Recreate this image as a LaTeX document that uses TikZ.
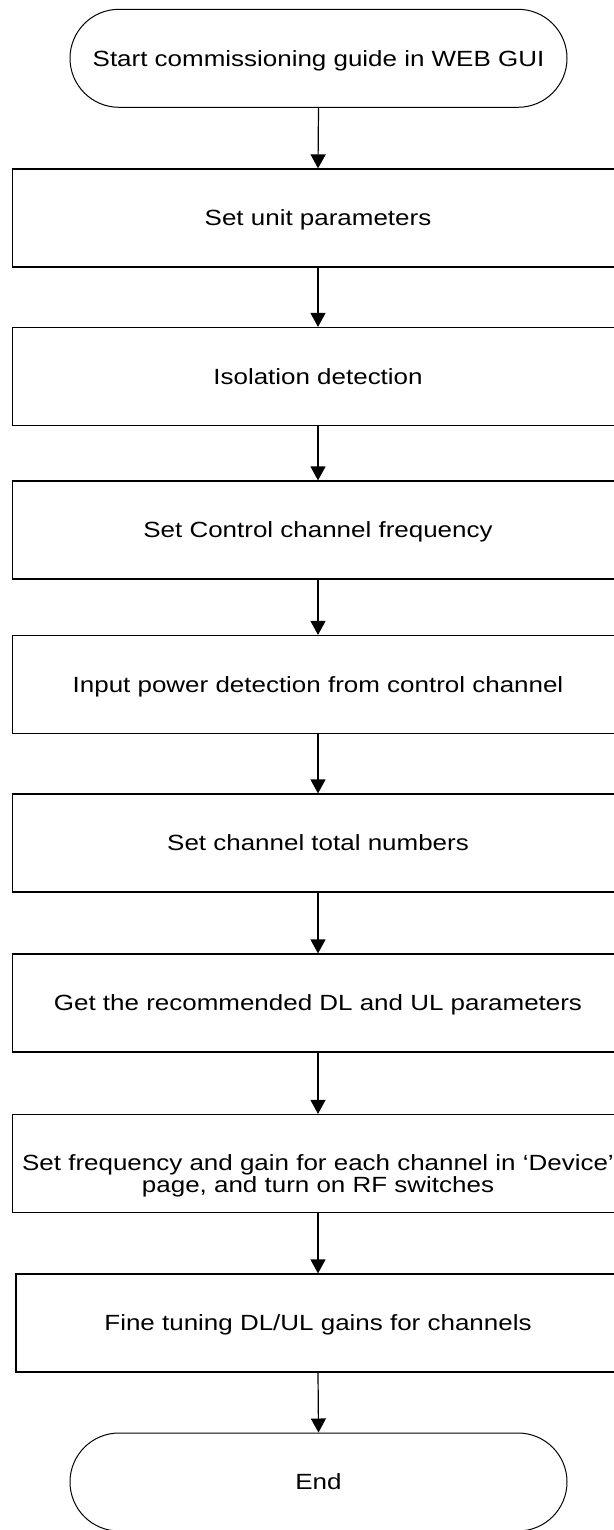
\documentclass[tikz,border=0pt]{standalone}
\usepackage{fontspec}
\setmainfont{Liberation Sans}
\usetikzlibrary{arrows.meta,shapes.misc}
\newcommand{\widetxt}[1]{\scalebox{1.18}[1]{#1}}
\begin{document}
\begin{tikzpicture}[x=1pt,y=-1pt,
  txt/.style={font=\fontsize{22}{23}\selectfont,text height=15.7pt,text depth=0pt},
  stepbox/.style={txt,draw=black,line width=1.2pt,minimum width=611pt,minimum height=98pt,inner sep=0pt,align=center},
  term/.style={txt,draw=black,line width=1pt,rounded rectangle,minimum width=497pt,minimum height=98pt,inner sep=0pt},
  plain/.style={font=\fontsize{22}{23}\selectfont,inner sep=0pt,anchor=base},
  flow/.style={draw=black,line width=1.2pt,-{Triangle[width=15pt,length=14pt]}}]
\useasboundingbox (0,0) rectangle (613,1530);
\node[term] (start) at (318.5,58.3) {\widetxt{Start commissioning guide in WEB GUI}};
\node[stepbox] (b1) at (318,218) {\widetxt{Set unit parameters}};
\node[stepbox] (b2) at (318,376.5) {\widetxt{Isolation detection}};
\node[stepbox] (b3) at (318,530) {\widetxt{Set Control channel frequency}};
\node[stepbox] (b4) at (318,684.5) {\widetxt{Input power detection from control channel}};
\node[stepbox] (b5) at (318,843) {\widetxt{Set channel total numbers}};
\node[stepbox] (b6) at (318,1003) {\widetxt{Get the recommended DL and UL parameters}};
\node[stepbox] (b7) at (318,1163.5) {};
\node[plain] (b7a) at (318,1170) {\widetxt{Set frequency and gain for each channel in ‘Device’}};
\node[plain] (b7b) at (318,1192) {\widetxt{page, and turn on RF switches}};
\node[stepbox,minimum width=604pt] (b8) at (318,1323) {\widetxt{Fine tuning DL/UL gains for channels}};
\node[term] (end) at (318.5,1482) {\widetxt{End}};
\draw[flow] (start.south) -- (b1.north);
\draw[flow] (b1.south) -- (b2.north);
\draw[flow] (b2.south) -- (b3.north);
\draw[flow] (b3.south) -- (b4.north);
\draw[flow] (b4.south) -- (b5.north);
\draw[flow] (b5.south) -- (b6.north);
\draw[flow] (b6.south) -- (b7.north);
\draw[flow] (b7.south) -- (b8.north);
\draw[flow] (b8.south) -- (end.north);
\end{tikzpicture}
\end{document}
